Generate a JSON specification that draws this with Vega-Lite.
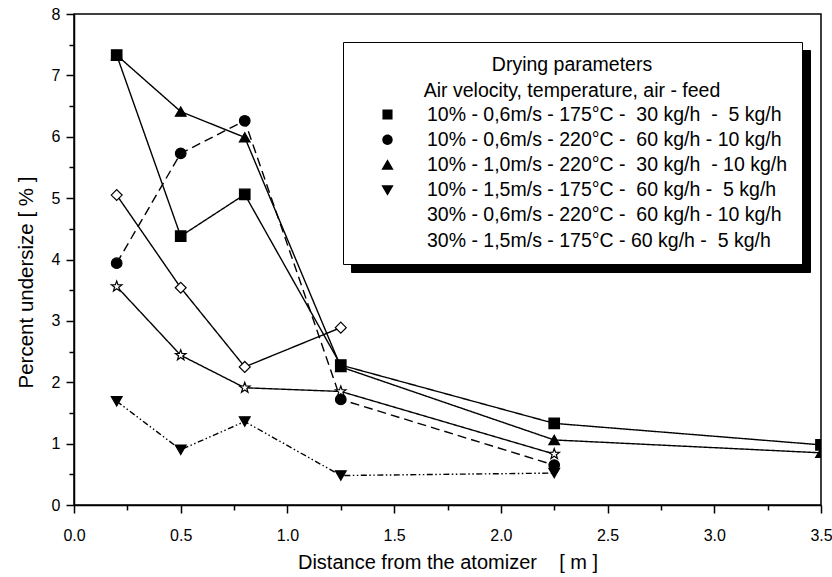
{
  "$schema": "https://vega.github.io/schema/vega-lite/v6.json",
  "width": 747,
  "height": 491,
  "autosize": {"type": "none"},
  "padding": {"left": 74, "top": 14, "right": 11, "bottom": 72},
  "background": "white",
  "config": {
    "font": "Liberation Sans",
    "view": {"stroke": "black", "strokeWidth": 1.5},
    "axis": {
      "grid": false,
      "domainColor": "black",
      "domainWidth": 1.5,
      "tickColor": "black",
      "tickWidth": 1.5,
      "labelColor": "black",
      "titleColor": "black",
      "labelFont": "Liberation Sans",
      "titleFont": "Liberation Sans",
      "titleFontWeight": "normal",
      "labelFlush": false,
      "labelOverlap": false
    }
  },
  "datasets": {
    "series": [
      {"s": 1, "label": "10% - 0,6m/s - 175°C -\u00a0 30 kg/h\u00a0 -\u00a0 5 kg/h"},
      {"s": 2, "label": "10% - 0,6m/s - 220°C -\u00a0 60 kg/h - 10 kg/h"},
      {"s": 3, "label": "10% - 1,0m/s - 220°C -\u00a0 30 kg/h\u00a0 - 10 kg/h"},
      {"s": 4, "label": "10% - 1,5m/s - 175°C -\u00a0 60 kg/h -\u00a0 5 kg/h"},
      {"s": 5, "label": "30% - 0,6m/s - 220°C -\u00a0 60 kg/h - 10 kg/h"},
      {"s": 6, "label": "30% - 1,5m/s - 175°C - 60 kg/h -\u00a0 5 kg/h"}
    ],
    "measurements": [
      {"s": 1, "d": 0.2, "u": 7.33},
      {"s": 1, "d": 0.5, "u": 4.38},
      {"s": 1, "d": 0.8, "u": 5.06},
      {"s": 1, "d": 1.25, "u": 2.28},
      {"s": 1, "d": 2.25, "u": 1.33},
      {"s": 1, "d": 3.5, "u": 0.98},
      {"s": 2, "d": 0.2, "u": 3.94},
      {"s": 2, "d": 0.5, "u": 5.73},
      {"s": 2, "d": 0.8, "u": 6.26},
      {"s": 2, "d": 1.25, "u": 1.72},
      {"s": 2, "d": 2.25, "u": 0.65},
      {"s": 3, "d": 0.2, "u": 7.33},
      {"s": 3, "d": 0.5, "u": 6.41},
      {"s": 3, "d": 0.8, "u": 5.99},
      {"s": 3, "d": 1.25, "u": 2.25},
      {"s": 3, "d": 2.25, "u": 1.06},
      {"s": 3, "d": 3.5, "u": 0.85},
      {"s": 4, "d": 0.2, "u": 1.69},
      {"s": 4, "d": 0.5, "u": 0.9},
      {"s": 4, "d": 0.8, "u": 1.36},
      {"s": 4, "d": 1.25, "u": 0.48},
      {"s": 4, "d": 2.25, "u": 0.52},
      {"s": 5, "d": 0.2, "u": 5.05},
      {"s": 5, "d": 0.5, "u": 3.54},
      {"s": 5, "d": 0.8, "u": 2.25},
      {"s": 5, "d": 1.25, "u": 2.89},
      {"s": 6, "d": 0.2, "u": 3.56},
      {"s": 6, "d": 0.5, "u": 2.44},
      {"s": 6, "d": 0.8, "u": 1.91},
      {"s": 6, "d": 1.25, "u": 1.85},
      {"s": 6, "d": 2.25, "u": 0.83}
    ]
  },
  "data": {"name": "measurements"},
  "transform": [
    {"lookup": "s", "from": {"data": {"name": "series"}, "key": "s", "fields": ["label"]}}
  ],
  "resolve": {"scale": {"shape": "independent", "fill": "independent"}},
  "encoding": {
    "x": {
      "field": "d",
      "type": "quantitative",
      "scale": {"domain": [0, 3.5], "nice": false, "zero": false},
      "axis": {
        "title": "Distance from the atomizer\u00a0\u00a0\u00a0 [ m ]",
        "values": [0, 0.25, 0.5, 0.75, 1, 1.25, 1.5, 1.75, 2, 2.25, 2.5, 2.75, 3, 3.25, 3.5],
        "labelExpr": "datum.value % 0.5 === 0 ? format(datum.value, '.1f') : ''",
        "tickSize": {"condition": {"test": "datum.value % 0.5 === 0", "value": 8}, "value": 5},
        "labelFontSize": 16,
        "labelPadding": 14,
        "titleFontSize": 20,
        "titleBaseline": "alphabetic",
        "titleY": 63
      }
    },
    "y": {
      "field": "u",
      "type": "quantitative",
      "scale": {"domain": [0, 8], "nice": false},
      "axis": {
        "title": "Percent undersize [ % ]",
        "values": [0, 0.5, 1, 1.5, 2, 2.5, 3, 3.5, 4, 4.5, 5, 5.5, 6, 6.5, 7, 7.5, 8],
        "labelExpr": "datum.value % 1 === 0 ? format(datum.value, 'd') : ''",
        "tickSize": {"condition": {"test": "datum.value % 1 === 0", "value": 8}, "value": 5},
        "labelFontSize": 16,
        "labelPadding": 6,
        "titleFontSize": 20.5,
        "titleBaseline": "alphabetic",
        "titleX": -42,
        "titleY": 268
      }
    }
  },
  "layer": [
    {
      "mark": {"type": "line", "color": "black", "strokeWidth": 1.4, "clip": true},
      "encoding": {
        "strokeDash": {
          "field": "label",
          "type": "nominal",
          "sort": {"field": "s", "op": "max"},
          "scale": {"range": [[1, 0], [9, 5], [1, 0], [6, 2.5, 1.5, 2.5, 1.5, 2.5], [1, 0], [1, 0]]},
          "legend": {
            "title": ["Drying parameters", "Air velocity, temperature, air - feed"],
            "orient": "none",
            "legendX": 277,
            "legendY": 36,
            "zindex": 1,
            "padding": 14,
            "fillColor": "black",
            "strokeColor": "black",
            "titleFontSize": 19.5,
            "titleFontWeight": "normal",
            "titleColor": "black",
            "titleAnchor": "middle",
            "titleAlign": "center",
            "titleLineHeight": 26,
            "titlePadding": 3,
            "titleLimit": 0,
            "labelFontSize": 19.5,
            "labelColor": "black",
            "labelLimit": 0,
            "symbolSize": 324,
            "symbolStrokeWidth": 1.5,
            "symbolStrokeColor": "black",
            "symbolOpacity": 1,
            "symbolOffset": 20.5,
            "labelOffset": 29.5,
            "rowPadding": 5.2,
            "encode": {"legend": {"strokeWidth": {"value": 1.5}}}
          }
        }
      }
    },
    {
      "mark": {"type": "point", "filled": true, "opacity": 1, "stroke": "black", "strokeWidth": 1.2, "clip": true},
      "encoding": {
        "shape": {
          "field": "label",
          "type": "nominal",
          "sort": {"field": "s", "op": "mean"},
          "scale": {"range": ["square", "circle", "triangle-up", "triangle-down", "diamond", "M0,-1L0.235,-0.324L0.951,-0.309L0.38,0.124L0.588,0.809L0,0.4L-0.588,0.809L-0.38,0.124L-0.951,-0.309L-0.235,-0.324Z"]},
          "legend": null
        },
        "fill": {
          "field": "s",
          "type": "ordinal",
          "scale": {"range": ["black", "black", "black", "black", "white", "white"]},
          "legend": null
        },
        "size": {
          "field": "s",
          "type": "ordinal",
          "scale": {"range": [110, 121, 169, 169, 160, 121]},
          "legend": null
        }
      }
    },
    {
      "mark": {"type": "point", "filled": true, "opacity": 0, "stroke": "black", "clip": true},
      "encoding": {
        "shape": {
          "field": "label",
          "type": "nominal",
          "sort": {"field": "s", "op": "min"},
          "scale": {"range": [
            "M-3,0H-0.56M0.56,0H3M-0.56,-0.56H0.56V0.56H-0.56Z",
            "M-3,0H-2.4M-1.9,0H-1.3M1,0H1.6M2.1,0H2.7M0.58,0C0.58,0.32,0.32,0.58,0,0.58C-0.32,0.58,-0.58,0.32,-0.58,0C-0.58,-0.32,-0.32,-0.58,0,-0.58C0.32,-0.58,0.58,-0.32,0.58,0Z",
            "M-3,0H3M0,-0.62L0.68,0.55L-0.68,0.55Z",
            "M-3,0H-2.78M-2.5,0H-2.28M-2,0H-1.78M-1.5,0H-1.28M-1,0H-0.78M0.85,0H1.07M1.35,0H1.57M1.85,0H2.07M2.35,0H2.57M2.8,0H3M0,0.62L0.68,-0.55L-0.68,-0.55Z",
            "M-3,0H-0.72M0.72,0H3M0,-0.72L0.72,0L0,0.72L-0.72,0Z",
            "M-3,0H-0.33M0.33,0H3M0,-0.6L0.141,-0.194L0.571,-0.185L0.228,0.074L0.353,0.485L0,0.24L-0.353,0.485L-0.228,0.074L-0.571,-0.185L-0.141,-0.194Z"
          ]},
          "legend": {
            "title": ["Drying parameters", "Air velocity, temperature, air - feed"],
            "orient": "none",
            "legendX": 269,
            "legendY": 28,
            "zindex": 2,
            "padding": 14,
            "fillColor": "white",
            "strokeColor": "black",
            "titleFontSize": 19.5,
            "titleFontWeight": "normal",
            "titleColor": "black",
            "titleAnchor": "middle",
            "titleAlign": "center",
            "titleLineHeight": 26,
            "titlePadding": 3,
            "titleLimit": 0,
            "labelFontSize": 19.5,
            "labelColor": "black",
            "labelLimit": 0,
            "symbolSize": 324,
            "symbolStrokeWidth": 1.5,
            "symbolStrokeColor": "black",
            "symbolOpacity": 1,
            "symbolOffset": 20.5,
            "labelOffset": 29.5,
            "rowPadding": 5.2,
            "encode": {
              "legend": {"strokeWidth": {"value": 1.5}},
              "symbols": {"stroke": {"value": "black"}, "strokeWidth": {"value": 1.5}}
            }
          }
        },
        "fill": {
          "field": "label",
          "type": "nominal",
          "sort": {"field": "s", "op": "min"},
          "scale": {"range": ["black", "black", "black", "black", "white", "white"]}
        }
      }
    }
  ]
}
